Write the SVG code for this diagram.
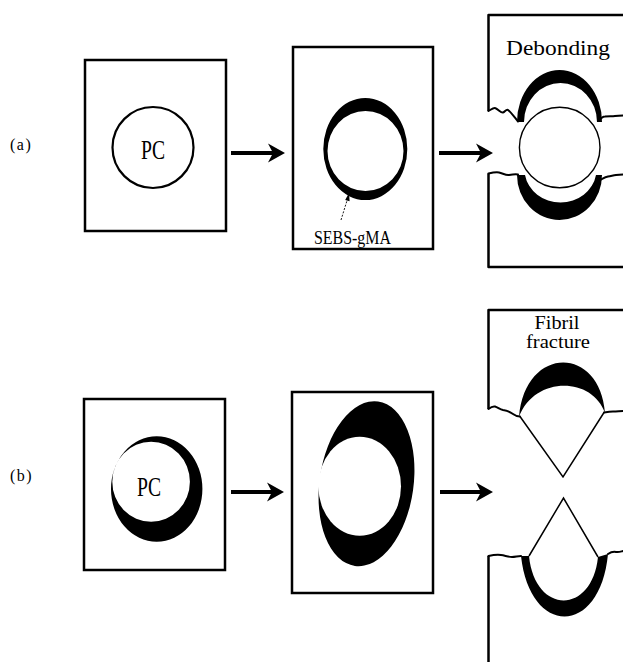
<svg xmlns="http://www.w3.org/2000/svg" width="623" height="662" viewBox="0 0 623 662">
  <style>
    .box { fill: #fff; stroke: #000; stroke-width: 2.5; }
    .edge { fill: none; stroke: #000; stroke-width: 2.5; stroke-linejoin: round; }
    .crack { fill: none; stroke: #000; stroke-width: 2; stroke-linejoin: round; stroke-linecap: round; }
    .thin { fill: none; stroke: #000; stroke-width: 1.5; }
    .ink { fill: #000; fill-rule: evenodd; }
    .lbl { font-family: "Liberation Serif", "DejaVu Serif", serif; fill: #000; }
    .row { font-size: 16px; letter-spacing: 1.5px; }
    .shaft { stroke: #000; stroke-width: 4; fill: none; }
  </style>
  <defs>
    <path id="head" d="M0,0 L-17,-9.5 L-12,0 L-17,9.5 Z" fill="#000"/>
  </defs>

  <!-- row labels -->
  <text class="lbl row" x="10" y="150">(a)</text>
  <text class="lbl row" x="10" y="481">(b)</text>

  <!-- (a) stage 1: bare PC particle -->
  <g id="a1">
    <rect class="box" x="85" y="60" width="141" height="171"/>
    <circle cx="153" cy="147.5" r="40.5" fill="#fff" stroke="#000" stroke-width="2.2"/>
    <text class="lbl" x="153" y="159" font-size="27" text-anchor="middle" textLength="24" lengthAdjust="spacingAndGlyphs">PC</text>
  </g>

  <!-- (a) stage 2: particle coated with SEBS-gMA -->
  <g id="a2">
    <rect class="box" x="293" y="47" width="140" height="202"/>
    <path class="ink" d="M323.3,149 a42,51 0 1,0 84,0 a42,51 0 1,0 -84,0 Z M327.5,151 a38,40 0 1,0 76,0 a38,40 0 1,0 -76,0 Z"/>
    <line x1="341" y1="220" x2="347.5" y2="199" stroke="#000" stroke-width="0.9" stroke-dasharray="2,1.5"/>
    <path d="M349,193 L345.2,200 L349.6,201.2 Z" fill="#000"/>
    <text class="lbl" x="314" y="244" font-size="18" textLength="77" lengthAdjust="spacingAndGlyphs">SEBS-gMA</text>
  </g>

  <!-- (a) stage 3: debonding -->
  <g id="a3">
    <path class="edge" d="M623,15 L488.5,15 L488.5,111"/>
    <path class="crack" d="M488.5,111 C492,109 494,107 496,108.5 C499,110 501,113 503,112.5 C505,112 506,109 508,110 C511,112 515,118 518,121.5"/>
    <path class="crack" d="M599,121 C601,118 603,116.5 605,116.5 C609,116 612,116.5 615,116 C618,115.5 620,115.5 623,115.5"/>
    <path class="ink" d="M517,122 A42.5,52 0 0 1 602,122 L597,122 A36.5,39 0 0 0 524,122 Z"/>
    <path class="ink" d="M517,175 A42.5,45 0 0 0 602,175 L596,175 A36,33 0 0 1 525,175 Z"/>
    <circle cx="559.7" cy="147.5" r="40.3" fill="#fff" stroke="#000" stroke-width="1.4"/>
    <path class="crack" d="M488.5,173.5 C493,172.5 496,172 499,172.5 C503,173.5 506,175.5 509,175 C512,174.5 515,174 518,174.5"/>
    <path class="crack" d="M600,180 C603,178.5 605,177 608,176.5 C611,176 613,175.5 616,175 C619,174.5 621,174.5 623,174.5"/>
    <path class="edge" d="M488.5,173.5 L488.5,267 L623,267"/>
    <text class="lbl" x="506" y="55" font-size="21" textLength="104" lengthAdjust="spacingAndGlyphs">Debonding</text>
  </g>

  <!-- (b) stage 1: PC particle with offset SEBS-gMA shell -->
  <g id="b1">
    <rect class="box" x="84" y="399" width="141" height="171"/>
    <path class="ink" d="M111,489 a45.7,52.8 0 1,0 91.4,0 a45.7,52.8 0 1,0 -91.4,0 Z M112.3,481.7 a38.8,40 0 1,0 77.6,0 a38.8,40 0 1,0 -77.6,0 Z"/>
    <text class="lbl" x="149" y="496" font-size="27" text-anchor="middle" textLength="24" lengthAdjust="spacingAndGlyphs">PC</text>
  </g>

  <!-- (b) stage 2: stretched shell -->
  <g id="b2">
    <rect class="box" x="292" y="392" width="141" height="201"/>
    <ellipse cx="366.5" cy="483.7" rx="47" ry="83" transform="rotate(8 366.5 483.7)" fill="#000"/>
    <ellipse cx="359.7" cy="486.2" rx="41.3" ry="49.5" fill="#fff"/>
  </g>

  <!-- (b) stage 3: fibril fracture -->
  <g id="b3">
    <path class="edge" d="M623,310 L488.5,310 L488.5,409"/>
    <path class="crack" d="M488.5,409 C491,407 493,406 495,406.5 C498,407.5 500,409.5 503,410 C507,410.5 510,412 513,414 C515,415.5 517,416.5 520,416.5"/>
    <path class="crack" d="M604,412.5 C607,412 610,411.5 613,411.5 C617,411.5 620,411 623,411"/>
    <path class="ink" d="M519,417 C525,345 600,345 605,413 C592,376 534,376 519,417 Z"/>
    <path class="thin" d="M520,416.5 L563,477 L604,412.5"/>
    <path class="thin" d="M529,556 L563.5,498 L598,557"/>
    <path class="ink" d="M521,556 C530,637 600,637 608,554 L598,557 C592,615 535,615 529,556 Z"/>
    <path class="crack" d="M488.5,556 C493,555 497,554.5 501,555 C505,555.5 508,557 512,557 C515,557 518,556 521,556"/>
    <path class="crack" d="M608,554 C611,552 613,551.5 616,552 C619,552.5 621,551.5 623,551"/>
    <path class="edge" d="M488.5,556 L488.5,662"/>
    <text class="lbl" x="557" y="329" font-size="19" text-anchor="middle" textLength="45" lengthAdjust="spacingAndGlyphs">Fibril</text>
    <text class="lbl" x="558" y="348" font-size="19" text-anchor="middle" textLength="64" lengthAdjust="spacingAndGlyphs">fracture</text>
  </g>

  <!-- process arrows -->
  <g id="connectors">
    <line class="shaft" x1="231" y1="153" x2="274" y2="153"/>
    <use href="#head" transform="translate(285 153)"/>
    <line class="shaft" x1="439" y1="153" x2="482" y2="153"/>
    <use href="#head" transform="translate(493 153)"/>
    <line class="shaft" x1="231" y1="492" x2="273" y2="492"/>
    <use href="#head" transform="translate(284 492)"/>
    <line class="shaft" x1="440" y1="492" x2="482" y2="492"/>
    <use href="#head" transform="translate(493 492)"/>
  </g>
</svg>
